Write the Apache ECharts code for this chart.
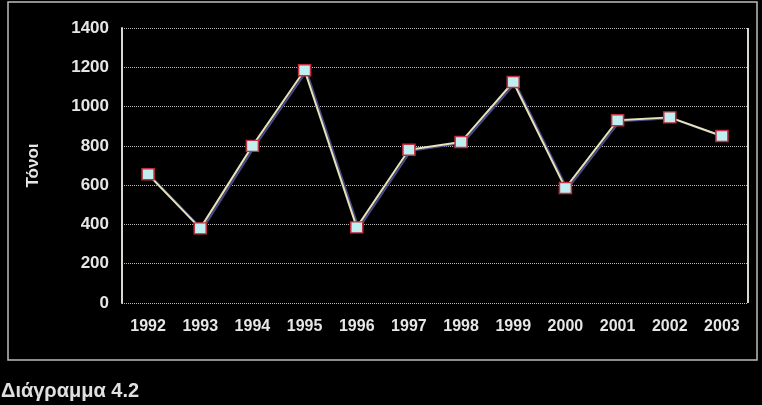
<!DOCTYPE html>
<html>
<head>
<meta charset="utf-8">
<script src="https://cdn.jsdelivr.net/npm/echarts@6/dist/echarts.min.js"></script>
<style>
html,body{margin:0;padding:0;background:#000;}
#c{width:762px;height:405px;}
</style>
</head>
<body>
<div id="c"></div>
<script>
var years = ['1992','1993','1994','1995','1996','1997','1998','1999','2000','2001','2002','2003'];
var tonnes = [655, 380, 800, 1185, 385, 780, 820, 1125, 585, 930, 945, 850];
var yTicks = [0, 200, 400, 600, 800, 1000, 1200, 1400];

var chart = echarts.init(document.getElementById('c'));
var txt = {color:'#e6e6e6', fontFamily:'Liberation Sans, Arial', fontWeight:'bold', textShadowColor:'#6a6a8a', textShadowOffsetX:1, textShadowOffsetY:1, textShadowBlur:0};
chart.setOption({
  backgroundColor:'#000',
  animation:false,
  grid:{left:122, right:14, top:28, bottom:102, containLabel:false},
  xAxis:{
    type:'category', data:years, boundaryGap:true,
    axisLine:{show:false}, axisTick:{show:false},
    axisLabel:Object.assign({fontSize:16, margin:16, interval:0}, txt),
    splitLine:{show:false}
  },
  yAxis:{
    type:'value', min:0, max:1400, interval:200,
    name:'Τόνοι', nameLocation:'middle', nameGap:80, nameRotate:90,
    nameTextStyle:Object.assign({fontSize:17}, txt),
    axisLine:{show:true, lineStyle:{color:'#d8d8d0', width:2}},
    axisTick:{show:false},
    axisLabel:Object.assign({fontSize:17, margin:13, formatter:function(v){return yTicks.indexOf(v)>=0?String(v):'';}}, txt),
    splitLine:{show:true, lineStyle:{color:'#bbbbbb', type:'dotted', width:1}}
  },
  graphic:[
    {type:'rect', shape:{x:8, y:2, width:749, height:358}, style:{fill:'none', stroke:'#bdbdbd', lineWidth:1.5}, silent:true},
    {type:'line', shape:{x1:748, y1:28, x2:748, y2:303}, style:{stroke:'#d8d8d0', lineWidth:2}, silent:true},
    {type:'text', left:1, top:381, style:{text:'Διάγραμμα 4.2', fill:'#e0e0e0', font:'bold 20px Liberation Sans, Arial', textShadowColor:'#6a6a8a', textShadowOffsetX:1, textShadowOffsetY:1}}
  ],
  series:[{
    type:'line', data:tonnes,
    symbol:'rect', symbolSize:[12,11],
    lineStyle:{color:'#e8e2b8', width:2, shadowColor:'#4a4a8a', shadowOffsetX:2, shadowOffsetY:1, shadowBlur:0},
    itemStyle:{color:'#bfeff0', borderColor:'#c03040', borderWidth:1.5}
  }]
});
</script>
</body>
</html>
